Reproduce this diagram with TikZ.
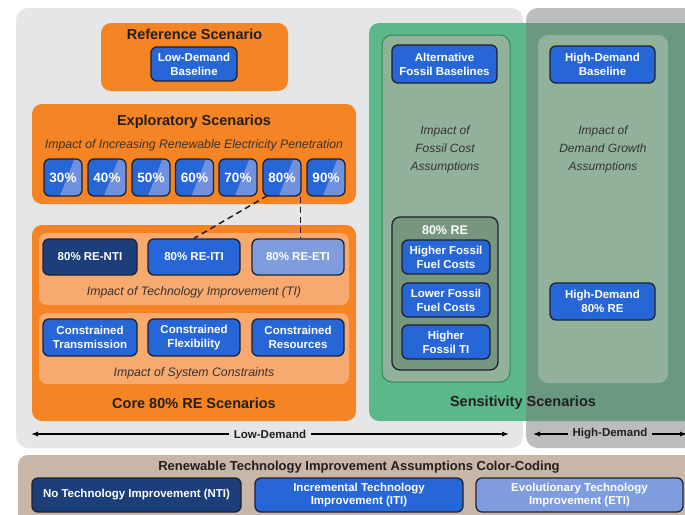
\documentclass[tikz,border=0pt]{standalone}
\usepackage{fontspec}
\setmainfont{Liberation Sans}
\usetikzlibrary{calc,arrows.meta}
\definecolor{lgray}{RGB}{229,230,231}
\definecolor{dgrayov}{RGB}{120,124,122}
\definecolor{dgraysolid}{RGB}{187,190,188}
\definecolor{grn}{RGB}{92,184,138}
\definecolor{ipanel}{RGB}{146,177,155}
\definecolor{ipborder}{RGB}{40,140,80}
\definecolor{rebox}{RGB}{118,150,126}
\definecolor{orng}{RGB}{245,132,36}
\definecolor{lorng}{RGB}{247,170,112}
\definecolor{bblue}{RGB}{38,102,214}
\definecolor{nblue}{RGB}{28,62,122}
\definecolor{eblue}{RGB}{126,156,222}
\definecolor{pblue}{RGB}{112,146,222}
\definecolor{bborder}{RGB}{30,34,48}
\definecolor{brwn}{RGB}{200,182,168}
\definecolor{ttext}{RGB}{35,31,32}
\definecolor{itext}{RGB}{55,50,50}
\begin{document}
\begin{tikzpicture}[x=1pt,y=-1pt,
  bluebox/.style={draw=bborder, line width=1.3pt, rounded corners=6pt, fill=bblue, text=white,
    font=\bfseries\fontsize{11.5}{14}\selectfont, align=center, inner sep=0pt},
  pctbox/.style={bluebox, minimum width=38pt, minimum height=37pt, font=\bfseries\fontsize{13.5}{15}\selectfont,
    path picture={\fill[pblue, sharp corners] ($(path picture bounding box.north west)!0.8!(path picture bounding box.north east)$)
      -- (path picture bounding box.north east) -- (path picture bounding box.south east)
      -- ($(path picture bounding box.south west)!0.42!(path picture bounding box.south east)$) -- cycle;}},
  ttl/.style={font=\bfseries\fontsize{14.5}{16}\selectfont, text=ttext, inner sep=0pt},
  itl/.style={font=\itshape\fontsize{12.3}{14}\selectfont, text=itext, inner sep=0pt, align=center},
  dashline/.style={draw=ttext, line width=1.5pt, dash pattern=on 6pt off 4pt},
  arr/.style={draw=black, line width=1.1pt, {Latex[length=7pt,width=5pt]}-{Latex[length=7pt,width=5pt]}},
  arrlbl/.style={font=\bfseries\fontsize{11.5}{13}\selectfont, text=ttext, inner xsep=5pt, inner ysep=1pt},
  legbox/.style={bluebox, minimum height=34pt, font=\bfseries\fontsize{11.5}{13}\selectfont}
]
\useasboundingbox (0,0) rectangle (685,514);
\fill[white] (0,0) rectangle (685,514);
% background panels
\fill[lgray, rounded corners=12pt] (16,8) rectangle (523,448);
\fill[grn, rounded corners=10pt] (369,23) rectangle (720,421);
\fill[dgrayov, opacity=0.5, rounded corners=12pt] (526,8) rectangle (720,448);
% inner sensitivity panels
\draw[fill=ipanel, draw=ipborder, line width=1pt, rounded corners=10pt] (382,35) rectangle (510,382);
\fill[ipanel, rounded corners=10pt] (538,35) rectangle (668,383);
% orange panels
\fill[orng, rounded corners=10pt] (101,23) rectangle (288,91);
\fill[orng, rounded corners=10pt] (32,104) rectangle (356,204);
\fill[orng, rounded corners=10pt] (32,225) rectangle (356,421);
\fill[lorng, rounded corners=8pt] (39,233) rectangle (349,305);
\fill[lorng, rounded corners=8pt] (39,313) rectangle (349,384);
% brown legend panel
\fill[brwn, rounded corners=10pt] (18,455) rectangle (720,540);

% Reference scenario
\node[ttl] (reftitle) at (194.5,34) {Reference Scenario};
\node[bluebox, minimum width=86pt, minimum height=34pt] (ldb) at (194,64) {Low-Demand\\Baseline};

% Exploratory
\node[ttl] (exptitle) at (194,122) {Exploratory Scenarios};
\node[itl] (expsub) at (194,145) {Impact of Increasing Renewable Electricity Penetration};
\foreach \p/\x in {30/63,40/107,50/151,60/194.5,70/238,80/282,90/326} {
  \node[pctbox] (p\p) at (\x,177.5) {\p\%};
}

% Core
\node[bluebox, fill=nblue, minimum width=94pt, minimum height=36pt] (nti) at (90,257) {80\% RE-NTI};
\node[bluebox, minimum width=92pt, minimum height=36pt] (iti) at (194,257) {80\% RE-ITI};
\node[bluebox, fill=eblue, minimum width=92pt, minimum height=36pt] (eti) at (298,257) {80\% RE-ETI};
\node[itl] (tilbl) at (194,292) {Impact of Technology Improvement (TI)};
\node[bluebox, minimum width=94pt, minimum height=37pt] (ctr) at (90,337.5) {Constrained\\Transmission};
\node[bluebox, minimum width=92pt, minimum height=37pt] (cfl) at (194,337.5) {Constrained\\Flexibility};
\node[bluebox, minimum width=92pt, minimum height=37pt] (cres) at (298,337.5) {Constrained\\Resources};
\node[itl] (sclbl) at (194,373) {Impact of System Constraints};
\node[ttl] (coretitle) at (194,403) {Core 80\% RE Scenarios};

\coordinate (p80l) at ($(p80.south west)+(5,-1)$);
\coordinate (p80r) at ($(p80.south east)+(-1,0)$);
\draw[dashline] (p80l) -- (iti.north);
\draw[dashline] (p80r) -- (p80r |- eti.north);

% Sensitivity
\node[bluebox, minimum width=105pt, minimum height=38pt] (afb) at (444.5,64) {Alternative\\Fossil Baselines};
\node[bluebox, minimum width=105pt, minimum height=37pt] (hdb) at (602.5,64.5) {High-Demand\\Baseline};
\node[itl, font=\itshape\fontsize{12}{18}\selectfont] (fosslbl) at (445,149) {Impact of\\Fossil Cost\\Assumptions};
\node[itl, font=\itshape\fontsize{12}{18}\selectfont] (demlbl) at (603,149) {Impact of\\Demand Growth\\Assumptions};
\node[draw=bborder, line width=1.3pt, rounded corners=8pt, fill=rebox, minimum width=106pt, minimum height=153pt, inner sep=0pt] (re80) at (445,293.5) {};
\node[font=\bfseries\fontsize{12.5}{14}\selectfont, text=white, inner sep=0pt] (re80lbl) at (445,230) {80\% RE};
\node[bluebox, minimum width=88pt, minimum height=34pt] (hffc) at (446,257) {Higher Fossil\\Fuel Costs};
\node[bluebox, minimum width=88pt, minimum height=34pt] (lffc) at (446,300) {Lower Fossil\\Fuel Costs};
\node[bluebox, minimum width=88pt, minimum height=34pt] (hfti) at (446,342) {Higher\\Fossil TI};
\node[bluebox, minimum width=105pt, minimum height=37pt] (hd80) at (602.5,301.5) {High-Demand\\80\% RE};
\node[ttl] (senstitle) at (523,403) {Sensitivity Scenarios};

% demand arrows
\coordinate (ldl) at (31,434);
\coordinate (ldr) at (509,434);
\draw[arr] (ldl) -- (ldr) node[pos=0.5, arrlbl, fill=lgray] (ldlbl) {Low-Demand};
\coordinate (hdl) at (533,434);
\coordinate (hdr) at (687,434);
\draw[arr] (hdl) -- (hdr) node[pos=0.5, arrlbl, fill=dgraysolid] (hdlbl) {High-Demand};

% legend
\node[font=\bfseries\fontsize{13}{15}\selectfont, text=ttext, inner sep=0pt] (legtitle) at (359,467) {Renewable Technology Improvement Assumptions Color-Coding};
\node[legbox, fill=nblue, minimum width=209pt] (lnti) at (136.5,495) {No Technology Improvement (NTI)};
\node[legbox, minimum width=208pt] (liti) at (359,495) {Incremental Technology\\Improvement (ITI)};
\node[legbox, fill=eblue, minimum width=207pt] (leti) at (579.5,495) {Evolutionary Technology\\Improvement (ETI)};
\end{tikzpicture}
\end{document}
